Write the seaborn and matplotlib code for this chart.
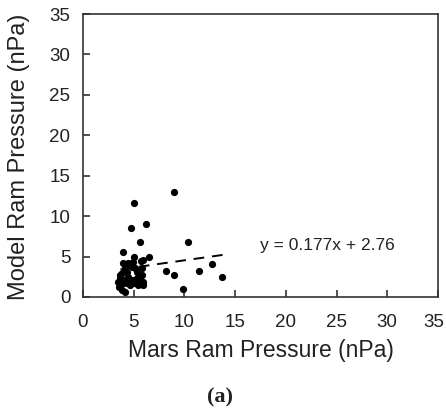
import numpy as np
import pandas as pd
import seaborn as sns
import matplotlib
matplotlib.use("Agg")
import matplotlib.pyplot as plt
from matplotlib.transforms import ScaledTranslation

# Observed (Mars) vs model ram pressure, nPa
mars_ram = [9.0, 5.03, 4.7, 6.25, 5.59, 10.35, 3.9, 6.5, 5.03, 5.7,
            8.2, 9.0, 9.86, 11.4, 12.75, 13.7,
            3.98, 4.14, 3.81, 3.64, 3.48, 3.55, 3.81, 4.14, 4.31, 4.47,
            4.31, 4.80, 4.97, 5.13, 4.80, 4.64, 5.13, 5.29, 5.62, 5.79,
            5.95, 5.90, 5.46, 5.29, 5.79, 5.95, 4.14, 3.64, 4.47, 3.98]
model_ram = [13.0, 11.6, 8.57, 9.06, 6.76, 6.76, 5.6, 4.94, 4.97, 4.5,
             3.2, 2.7, 0.95, 3.2, 4.1, 2.5,
             4.17, 3.55, 2.93, 2.31, 1.90, 1.28, 0.87, 0.66, 1.69, 2.51,
             3.14, 3.76, 4.37, 3.55, 2.10, 1.48, 1.69, 2.31, 2.10, 2.72,
             1.90, 1.48, 1.48, 3.14, 3.55, 4.57, 2.10, 2.72, 4.17, 1.69]

slope = 0.177
intercept = 2.76
fit_range = [3.7, 14.3]

x_ticks = [0, 5, 10, 15, 20, 25, 30, 35]
y_ticks = [0, 5, 10, 15, 20, 25, 30, 35]

df = pd.DataFrame({"mars": mars_ram, "model": model_ram})
fit_x = np.array(fit_range)
fit_df = pd.DataFrame({"x": fit_x, "y": slope * fit_x + intercept})

sns.set_style("white")
plt.rcParams["font.family"] = ["Liberation Sans", "DejaVu Sans"]

fig = plt.figure(figsize=(4.46, 4.13), dpi=100)
ax = fig.add_axes([0.186, 0.281, 0.796, 0.685])

sns.scatterplot(data=df, x="mars", y="model", ax=ax, color="black",
                s=27, edgecolor="black", linewidth=0, zorder=3)
sns.lineplot(data=fit_df, x="x", y="y", ax=ax, color="black",
             linestyle=(0, (5.5, 4)), linewidth=1.4, zorder=2)

ax.set_xlim(0, 35)
ax.set_ylim(0, 35)
ax.set_xticks(x_ticks)
ax.set_yticks(y_ticks)
ax.tick_params(direction="in", length=5, width=1.2, color="#333333",
               labelsize=13.5, labelcolor="#222222", pad=9,
               bottom=True, left=True, top=False, right=False)
ax.tick_params(axis="x", pad=12)
for sp in ax.spines.values():
    sp.set_color("#333333")
    sp.set_linewidth(1.2)

# keep the last x tick label inside the figure edge
last = ax.get_xticklabels()[-1]
last.set_transform(last.get_transform()
                   + ScaledTranslation(-4 / 100, 0, fig.dpi_scale_trans))

ax.set_xlabel("Mars Ram Pressure (nPa)", fontsize=16.5, color="#222222",
              labelpad=6)
ax.set_ylabel("Model Ram Pressure (nPa)", fontsize=17, color="#222222",
              va="center")
ax.yaxis.set_label_coords(-0.18, 0.495)

ax.text(17.45, 6.4, f"y = {slope}x + {intercept}", fontsize=12.5,
        color="#222222", ha="left", va="center")

fig.text(0.493, 0.038, "(a)", fontsize=16, fontweight="bold",
         family="Liberation Serif", ha="center", va="center", color="#222222")

fig.savefig("out.png", dpi=100, facecolor="white")
